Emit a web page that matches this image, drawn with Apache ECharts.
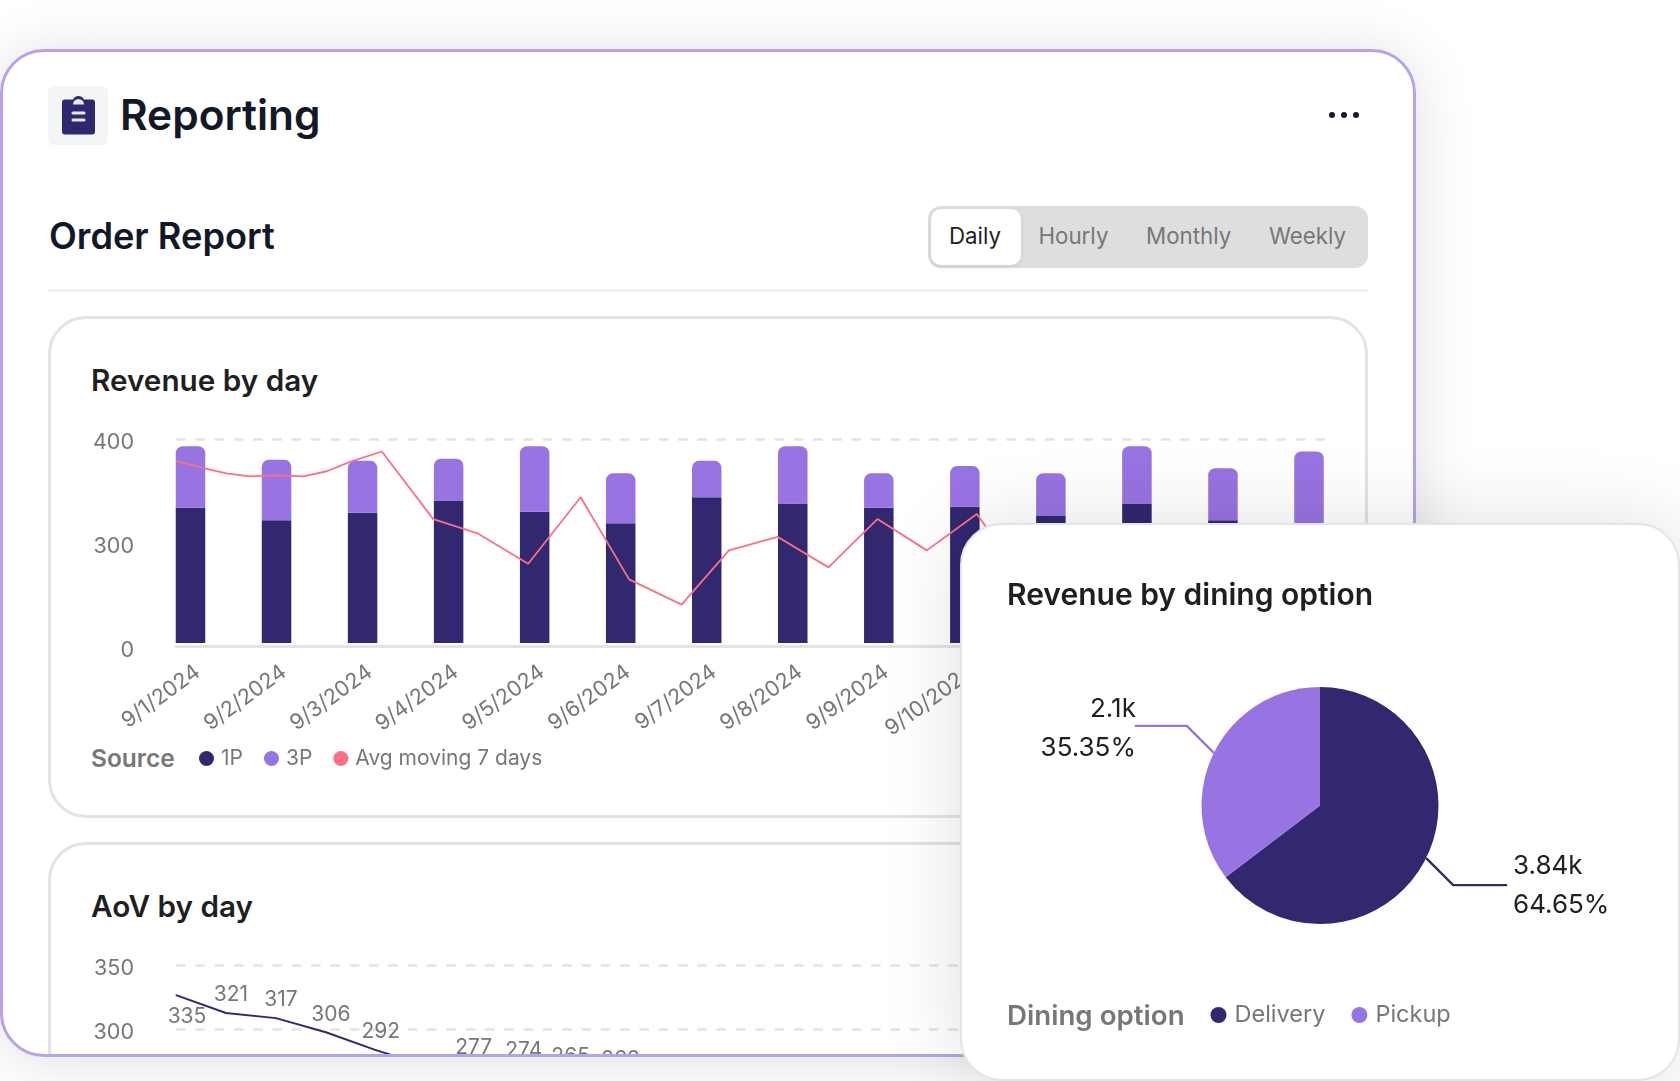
<!DOCTYPE html>
<html>
<head>
<meta charset="utf-8">
<title>Reporting</title>
<script src="https://cdn.jsdelivr.net/npm/echarts@6/dist/echarts.min.js"></script>
<style>
    html, body { margin: 0; padding: 0; background: #fff; }
    body { position: relative; width: 1680px; height: 1081px; overflow: hidden; font-family: Inter, "Noto Sans", sans-serif; }
    .abs { position: absolute; white-space: nowrap; }
    .main_card { position: absolute; left: 0; top: 49px; width: 1416px; height: 1008px; box-sizing: border-box; border: 3px solid #b9a1ec; border-radius: 44px; background: #fff; overflow: hidden; box-shadow: 0 4px 60px rgba(0, 0, 0, .13); }
    /* children of the cards are placed in page coordinates */
    .page { position: absolute; left: -3px; top: -52px; width: 1680px; height: 1110px; }
    .icon_box { left: 48px; top: 86px; width: 60px; height: 59px; border-radius: 6px; background: #f4f5f7; }
    .h_reporting { left: 120px; top: 85px; line-height: 60px; font-size: 42.400px; font-weight: 600; color: #111827; }
    .h_order { left: 49px; top: 206px; line-height: 60px; font-size: 36.200px; font-weight: 600; color: #111827; }
    .dots { left: 1329px; top: 112px; width: 30px; height: 6px; }
    .dots i { position: absolute; top: 0; width: 6px; height: 6px; border-radius: 50%; background: #111827; }
    .tabs { left: 928px; top: 206px; width: 440px; height: 62px; border-radius: 13px; background: #dedede; }
    .tab_on { left: 931px; top: 209px; width: 90px; height: 56px; border-radius: 10px; background: #fff; box-shadow: 0 2px 6px rgba(0, 0, 0, .08); }
    .tab { top: 206px; line-height: 60px; font-size: 22.300px; color: #777; }
    .divider { left: 48px; top: 289px; width: 1320px; height: 3px; background: #f1f1f1; }
    .sub_card { position: absolute; box-sizing: border-box; left: 48px; width: 1320px; border: 3px solid #e3e3e3; border-radius: 38px; background: #fff; }
    .h_chart { line-height: 40px; font-size: 29.700px; font-weight: 600; color: #1f1f1f; }
    .legend_name { line-height: 40px; font-size: 24.500px; font-weight: 600; color: #777; }
    .chart { position: absolute; left: 0; top: 0; width: 1680px; height: 1110px; }
    .popover { position: absolute; left: 960px; top: 523px; width: 720px; height: 558px; box-sizing: border-box; border: 2px solid #e4e4e4; border-radius: 42px; background: #fff; box-shadow: 0 0 80px rgba(0, 0, 0, .13); }
    .popover .page { left: -962px; top: -525px; }
</style>
</head>
<body>
<div class="main_card">
    <div class="page">
        <div class="abs icon_box"></div>
        <svg class="abs" style="left:62px;top:93px" width="33" height="42" viewBox="0 0 33 41">
            <path d="M3 6h8a6 6 0 0 1 11 0h8a3 3 0 0 1 3 3v29a3 3 0 0 1-3 3H3a3 3 0 0 1-3-3V9a3 3 0 0 1 3-3z" fill="#2f2871"/>
            <path d="M11 11a5.500 5.500 0 0 1 11 0z" fill="#e9e7f3"/>
            <rect x="9.500" y="18" width="14" height="3" rx="1.500" fill="#e9e7f3"/>
            <rect x="9.500" y="25" width="14" height="3" rx="1.500" fill="#e9e7f3"/>
        </svg>
        <div class="abs h_reporting">Reporting</div>
        <div class="abs dots"><i style="left:0"></i><i style="left:12px"></i><i style="left:24px"></i></div>
        <div class="abs h_order">Order Report</div>
        <div class="abs tabs"></div>
        <div class="abs tab_on"></div>
        <div class="abs tab" style="left:949px;color:#1f1f1f">Daily</div>
        <div class="abs tab" style="left:1038.500px">Hourly</div>
        <div class="abs tab" style="left:1146px">Monthly</div>
        <div class="abs tab" style="left:1269px">Weekly</div>
        <div class="abs divider"></div>

        <div class="sub_card" style="top:316px;height:502px"></div>
        <div class="abs h_chart" style="left:91px;top:360px">Revenue by day</div>
        <div class="abs legend_name" style="left:91px;top:738px">Source</div>

        <div class="sub_card" style="top:842px;height:320px"></div>
        <div class="abs h_chart" style="left:91px;top:886px">AoV by day</div>

        <div id="revenue_chart" class="chart"></div>
        <div id="aov_chart" class="chart"></div>
    </div>
</div>
<div class="popover">
    <div class="page">
        <div class="abs h_chart" style="left:1007px;top:574px;font-size:30px">Revenue by dining option</div>
        <div class="abs legend_name" style="left:1007px;top:995px;font-size:27.700px">Dining option</div>
        <div id="dining_chart" class="chart"></div>
    </div>
</div>

<script>
    // Revenue by day
    var revenueDays = ['9/1/2024', '9/2/2024', '9/3/2024', '9/4/2024', '9/5/2024', '9/6/2024', '9/7/2024',
        '9/8/2024', '9/9/2024', '9/10/2024', '9/11/2024', '9/12/2024', '9/13/2024', '9/14/2024'];
    var revenue1P = [334, 322, 329, 341, 330, 319, 344, 338, 334, 335, 326, 338, 322, 318];
    var revenue3P = [59, 58, 50, 40, 63, 48, 35, 55, 33, 39, 41, 55, 50, 70];
    // the moving average runs on its own finer x scale (0-23); the part after 17 is hidden by the popover
    var avgX = [0, 0.55, 1.01, 1.48, 2.02, 2.55, 3.02, 3.48, 4.12, 5.15, 6.05, 7.05, 8.10, 9.07, 10.12, 11.07, 12.04, 13.06, 14.04, 15.03, 16.03, 17.03];
    var avgMoving7 = [379, 372, 367, 364, 365, 364, 369, 378, 388, 323, 309, 238, 344, 191, 115, 278, 306, 227, 323, 278, 328, 178];

    // AoV by day
    var aovSlots = ['1', '2', '3', '4', '5', '6', '7', '8', '9', '10', '11', '12', '13', '14', '15', '16',
        '17', '18', '19', '20', '21', '22', '23', '24'];
    var aovValues = [335, 321, 317, 306, 292, 280, 277, 274, 265, 263];

    // Revenue by dining option
    var diningNames = ['Delivery', 'Pickup'];
    var diningValues = [3840, 2100];

    var colorDark = '#31286f';
    var colorPurple = '#9873e2';
    var colorPink = '#fb6f87';
    var colorText = '#777777';
    var fontName = 'Inter';

    var gridLine = { show: true, showMinLine: false, lineStyle: { color: '#e3e3e3', width: 2.5, type: [9.5, 9.81] } };
    var yLabel = {
        color: colorText, fontFamily: fontName, fontSize: 21.5, margin: 42,
        formatter: function (v) { return v === 0 ? '{zero|0}' : '{tick|' + v + '}'; },
        rich: {
            tick: { color: colorText, fontFamily: fontName, fontSize: 21.5, padding: [7, 0, 0, 0] },
            zero: { color: colorText, fontFamily: fontName, fontSize: 21.5, padding: [16, 0, 0, 0] }
        }
    };

    var revenueChart = echarts.init(document.getElementById('revenue_chart'));
    revenueChart.setOption({
        animation: false,
        backgroundColor: 'transparent',
        legend: {
            left: 194, top: 743, itemWidth: 15, itemHeight: 15, itemGap: 21, icon: 'circle', selectedMode: false,
            textStyle: { color: colorText, fontFamily: fontName, fontSize: 21, padding: [0, 0, 0, 2] },
            data: ['1P', '3P', 'Avg moving 7 days']
        },
        grid: [
            { left: 176, top: 439, width: 1149, height: 204 },
            { left: 190.5, top: 439, width: 1118.5, height: 204 }
        ],
        xAxis: [
            {
                gridIndex: 0, type: 'value', min: 0, max: 23, offset: 3, splitLine: { show: false },
                axisLine: { show: true, onZero: false, lineStyle: { color: '#e3e3e3', width: 3 } }, axisTick: { show: false }, axisLabel: { show: false }
            },
            {
                gridIndex: 1, type: 'category', data: revenueDays, boundaryGap: false,
                axisLine: { show: false, onZero: false }, axisTick: { show: false },
                axisLabel: { color: colorText, fontFamily: fontName, fontSize: 21.5, rotate: 36, interval: 0, margin: 32, padding: [0, -9, 0, 0] }
            }
        ],
        yAxis: [
            {
                gridIndex: 0, type: 'value', min: 0, max: 400, interval: 100,
                breaks: [{ start: 0, end: 300, gap: '49%' }], breakArea: { show: false },
                axisLine: { show: false }, axisTick: { show: false }, axisLabel: yLabel, splitLine: gridLine
            },
            {
                gridIndex: 1, type: 'value', min: 0, max: 400, interval: 100, show: false,
                breaks: [{ start: 0, end: 300, gap: '49%' }], breakArea: { show: false },
                splitLine: { show: false }
            }
        ],
        series: [
            {
                name: '1P', type: 'bar', stack: 'source', xAxisIndex: 1, yAxisIndex: 1, barWidth: 29.5, clip: false,
                itemStyle: { color: colorDark }, data: revenue1P
            },
            {
                name: '3P', type: 'bar', stack: 'source', xAxisIndex: 1, yAxisIndex: 1, barWidth: 29.5, clip: false,
                itemStyle: { color: colorPurple, borderRadius: [7, 7, 0, 0] }, data: revenue3P
            },
            {
                name: 'Avg moving 7 days', type: 'line', xAxisIndex: 0, yAxisIndex: 0, symbol: 'none', z: 5,
                itemStyle: { color: colorPink }, lineStyle: { color: colorPink, width: 1.8 },
                data: avgMoving7.map(function (v, i) { return [avgX[i], v]; })
            }
        ]
    });

    var aovChart = echarts.init(document.getElementById('aov_chart'));
    aovChart.setOption({
        animation: false,
        backgroundColor: 'transparent',
        grid: { left: 176, top: 965, width: 1149, height: 128 },
        xAxis: { type: 'category', data: aovSlots, boundaryGap: false, show: false },
        yAxis: [
            {
                type: 'value', min: 250, max: 350, interval: 50,
                axisLine: { show: false }, axisTick: { show: false }, axisLabel: yLabel, splitLine: gridLine
            },
            // the line sits a little lower than the gridlines in the picture
            { type: 'value', min: 258.500, max: 358.500, show: false, splitLine: { show: false } }
        ],
        series: [{
            type: 'line', yAxisIndex: 1, symbol: 'circle', symbolSize: 1, showAllSymbol: true,
            itemStyle: { color: colorDark }, lineStyle: { color: colorDark, width: 2 },
            label: { show: true, position: 'top', distance: 7, offset: [5, 0], color: colorText, fontFamily: fontName, fontSize: 21 },
            data: aovValues.map(function (v, i) {
                if (i === 0) return { value: v, label: { position: 'bottom', distance: 11, offset: [11, 0] } };
                if (i === 5) return { value: v, label: { show: false } };
                if (i >= 8) return { value: v, label: { offset: [-5, -10] } };
                if (i >= 6) return { value: v, label: { offset: [-2, -4] } };
                return v;
            })
        }]
    });

    var diningChart = echarts.init(document.getElementById('dining_chart'));
    diningChart.setOption({
        animation: false,
        backgroundColor: 'transparent',
        legend: {
            left: 1205.5, top: 998, itemWidth: 16, itemHeight: 16, itemGap: 26, icon: 'circle', selectedMode: false,
            textStyle: { color: colorText, fontFamily: fontName, fontSize: 23.5, padding: [0, 0, 0, 3] },
            data: diningNames
        },
        series: [{
            type: 'pie', center: [1320, 805.500], radius: 118.500, startAngle: 90, percentPrecision: 2, silent: true,
            label: {
                color: '#1f1f1f', fontFamily: fontName, fontSize: 26, lineHeight: 39,
                formatter: function (p) { return (p.value / 1000) + 'k\n' + p.percent.toFixed(2) + '%'; }
            },
            labelLine: { show: true, length: 30, length2: 52, lineStyle: { width: 2.4 } },
            labelLayout: function (p) {
                var pts = p.labelLinePoints;
                var side = pts[2][0] > pts[0][0] ? 1 : -1;
                return {
                    dx: side > 0 ? 3 : 6,
                    dy: side > 0 ? 14.5 : -11,
                    labelLinePoints: [pts[0], [pts[0][0] + side * 27, pts[0][1] + side * 27], [pts[0][0] + side * (side > 0 ? 81 : 79), pts[0][1] + side * 27]]
                };
            },
            data: diningNames.map(function (n, i) {
                return { name: n, value: diningValues[i], itemStyle: { color: i === 0 ? colorDark : colorPurple } };
            })
        }]
    });
</script>
</body>
</html>
